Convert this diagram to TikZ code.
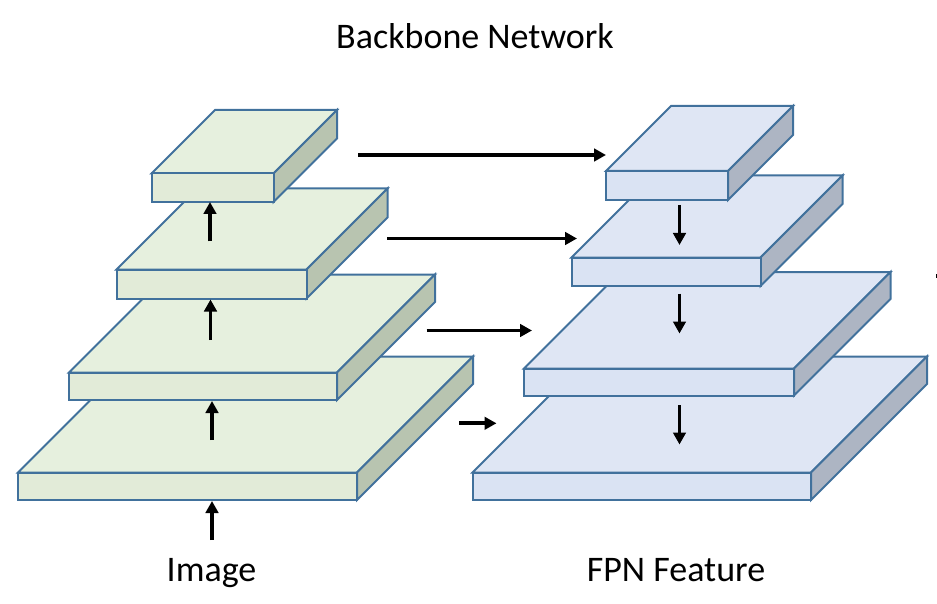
\documentclass[tikz,border=0pt]{standalone}
\usepackage{fontspec}
\setmainfont{Carlito}
\usetikzlibrary{arrows.meta}
\definecolor{edgeblue}{HTML}{41719C}
\definecolor{greentop}{HTML}{E6F0DE}
\definecolor{greenfront}{HTML}{E2EBD8}
\definecolor{greenside}{HTML}{B8C4B0}
\definecolor{bluetop}{HTML}{DFE6F4}
\definecolor{bluefront}{HTML}{DAE3F3}
\definecolor{blueside}{HTML}{ADB5C3}
\tikzset{
  slabedge/.style={draw=edgeblue, line width=2pt, line join=miter},
  flow/.style={line width=3.8pt, -{Triangle[width=12.5pt,length=12pt]}},
  label/.style={font=\fontsize{36}{42}\selectfont, anchor=base, inner sep=0pt}
}
% #1 x, #2 y of front-top-left, #3 width, #4 thickness, #5 depth, #6 colour prefix
\newcommand\myslab[6]{%
  \draw[slabedge, fill=#6top] (#1,#2) -- ++(#5,-#5) -- ++(#3,0) -- ++(-#5,#5) -- cycle;
  \draw[slabedge, fill=#6side] (#1+#3,#2) -- ++(#5,-#5) -- ++(0,#4) -- ++(-#5,#5) -- cycle;
  \draw[slabedge, fill=#6front] (#1,#2) rectangle ++(#3,#4);
}
\begin{document}
\begin{tikzpicture}[x=1pt,y=-1pt]
\useasboundingbox (0,0) rectangle (937,604);
% left stack (backbone)
\myslab{18}{472.5}{339}{27.5}{116}{green}
\myslab{69}{372.5}{268}{27.5}{98}{green}
\myslab{116.5}{269.5}{190}{29}{81}{green}
\myslab{151.5}{173.5}{122}{28.5}{63.5}{green}
% right stack (FPN)
\myslab{472.5}{472.5}{338.5}{27.5}{116}{blue}
\myslab{524}{368.5}{270}{27}{96.5}{blue}
\myslab{571.5}{257.5}{189}{28.5}{82}{blue}
\myslab{606}{171}{122}{29}{65}{blue}
% labels
\node[label] (title) at (475,48.3) {Backbone Network};
\node[label] (img) at (211.5,581) {Image};
\node[label] (fpn) at (676,581) {FPN Feature};
% arrow end points
\coordinate (u0s) at (212,540);   \coordinate (u0e) at (212,501);
\coordinate (u1s) at (212,440);   \coordinate (u1e) at (212,401);
\coordinate (u2s) at (210.5,340); \coordinate (u2e) at (210.5,299.5);
\coordinate (u3s) at (210,241.5); \coordinate (u3e) at (210,202);
\coordinate (d1s) at (679.5,205);   \coordinate (d1e) at (679.5,245);
\coordinate (d2s) at (679.5,293.5); \coordinate (d2e) at (679.5,333.5);
\coordinate (d3s) at (679.5,405);   \coordinate (d3e) at (679.5,444.5);
\coordinate (h1s) at (358,155);     \coordinate (h1e) at (606,155);
\coordinate (h2s) at (387,238.5);   \coordinate (h2e) at (577,238.5);
\coordinate (h3s) at (426.5,330.5); \coordinate (h3e) at (532,330.5);
\coordinate (h4s) at (459,423.3);   \coordinate (h4e) at (496.5,423.3);
% arrows
\foreach \a in {u0,u1,u2,u3,d1,d2,d3,h1,h2,h3,h4}
  \draw[flow] (\a s) -- (\a e);
% stray mark at right edge
\fill (935.5,274) rectangle (937,277.5);
\end{tikzpicture}
\end{document}
